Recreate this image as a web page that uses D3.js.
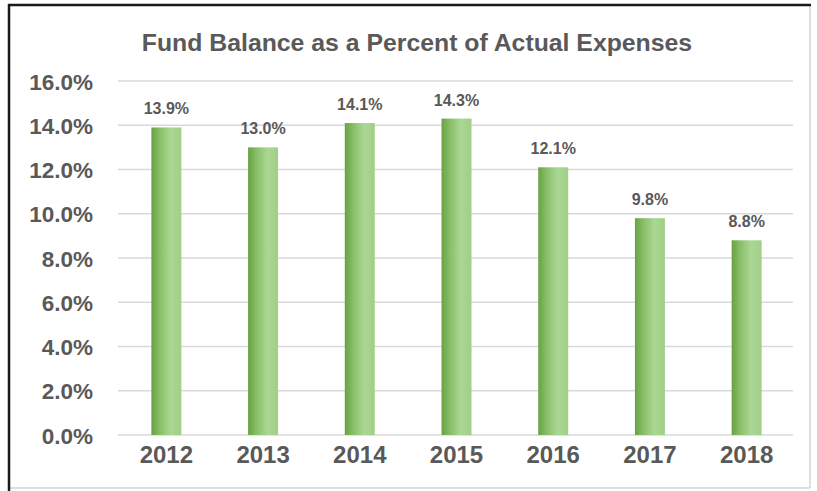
<!DOCTYPE html>
<html>
<head>
<meta charset="utf-8">
<script src="https://cdn.jsdelivr.net/npm/d3@7/dist/d3.min.js"></script>
<style>
  html, body { margin: 0; padding: 0; background: #ffffff; }
  svg { display: block; }
  text { font-family: "Liberation Sans", Arial, sans-serif; font-weight: bold; fill: #595959; }
</style>
</head>
<body>
<svg id="chart" width="817" height="491"></svg>
<script>
// Fund balance as a share of actual expenses, by fiscal year
const years = ["2012", "2013", "2014", "2015", "2016", "2017", "2018"];
const percents = [13.9, 13.0, 14.1, 14.3, 12.1, 9.8, 8.8];
const yTicks = [0, 2, 4, 6, 8, 10, 12, 14, 16];
const titleText = "Fund Balance as a Percent of Actual Expenses";

const svg = d3.select("#chart");
const W = 817, H = 491;

const plot = { left: 118, right: 795, top: 81, bottom: 435 };

const x = d3.scaleBand()
  .domain(years)
  .range([plot.left, plot.right])
  .paddingInner(0.69)
  .paddingOuter(0.345);

const y = d3.scaleLinear()
  .domain([0, 16])
  .range([plot.bottom, plot.top]);

// Bar fill: darker green on the left edge, light highlight towards the right
const defs = svg.append("defs");
const grad = defs.append("linearGradient")
  .attr("id", "barFill")
  .attr("x1", "0%").attr("x2", "100%").attr("y1", "0%").attr("y2", "0%");
[
  ["0%", "#68a244"],
  ["30%", "#8bc06a"],
  ["65%", "#abd794"],
  ["100%", "#a0cf86"]
].forEach(([o, c]) => grad.append("stop").attr("offset", o).attr("stop-color", c));

// Frame around the chart
svg.append("rect").attr("x", 0).attr("y", 0).attr("width", W).attr("height", H).attr("fill", "#ffffff");
svg.append("line").attr("x1", 810).attr("x2", 810).attr("y1", 5).attr("y2", 488)
  .attr("stroke", "#d4d4d4").attr("stroke-width", 1.5);
svg.append("line").attr("x1", 9).attr("x2", 810).attr("y1", 488).attr("y2", 488)
  .attr("stroke", "#d4d4d4").attr("stroke-width", 1.5);
svg.append("line").attr("x1", 8).attr("x2", 811).attr("y1", 5).attr("y2", 5)
  .attr("stroke", "#1a1a1a").attr("stroke-width", 2.5);
svg.append("line").attr("x1", 9).attr("x2", 9).attr("y1", 4).attr("y2", 491)
  .attr("stroke", "#1a1a1a").attr("stroke-width", 2.5);

// Title
svg.append("text")
  .attr("x", 417).attr("y", 51)
  .attr("text-anchor", "middle")
  .attr("font-size", 24.8)
  .text(titleText);

// Horizontal gridlines
svg.append("g").selectAll("line")
  .data(yTicks)
  .join("line")
  .attr("x1", plot.left).attr("x2", 793)
  .attr("y1", d => y(d)).attr("y2", d => y(d))
  .attr("stroke", "#d9d9d9").attr("stroke-width", 1.5);

// Y axis labels
const yAxis = d3.axisLeft(y).tickValues(yTicks).tickFormat(d => d.toFixed(1) + "%").tickSize(0).tickPadding(0);
const yg = svg.append("g").attr("transform", "translate(93,0)").call(yAxis);
yg.select(".domain").remove();
yg.selectAll("text")
  .attr("font-size", 22.5)
  .attr("font-family", "Liberation Sans, Arial, sans-serif")
  .attr("font-weight", "bold")
  .attr("fill", "#595959")
  .attr("dy", "0.36em");

// Bars
svg.append("g").selectAll("rect")
  .data(years.map((yr, i) => ({ yr, v: percents[i] })))
  .join("rect")
  .attr("x", d => x(d.yr))
  .attr("y", d => y(d.v))
  .attr("width", x.bandwidth())
  .attr("height", d => y(0) - y(d.v))
  .attr("fill", "url(#barFill)");

// Value labels above bars
svg.append("g").selectAll("text")
  .data(years.map((yr, i) => ({ yr, v: percents[i] })))
  .join("text")
  .attr("x", d => x(d.yr) + x.bandwidth() / 2)
  .attr("y", d => y(d.v) - 13)
  .attr("text-anchor", "middle")
  .attr("font-size", 16)
  .attr("fill", "#3f3f3f")
  .text(d => d.v.toFixed(1) + "%");

// X axis labels
const xAxis = d3.axisBottom(x).tickSize(0).tickPadding(0);
const xg = svg.append("g").attr("transform", `translate(0,${plot.bottom})`).call(xAxis);
xg.select(".domain").remove();
xg.selectAll("text")
  .attr("font-size", 24)
  .attr("font-family", "Liberation Sans, Arial, sans-serif")
  .attr("font-weight", "bold")
  .attr("fill", "#595959")
  .attr("dy", null)
  .attr("y", 28);
</script>
</body>
</html>
